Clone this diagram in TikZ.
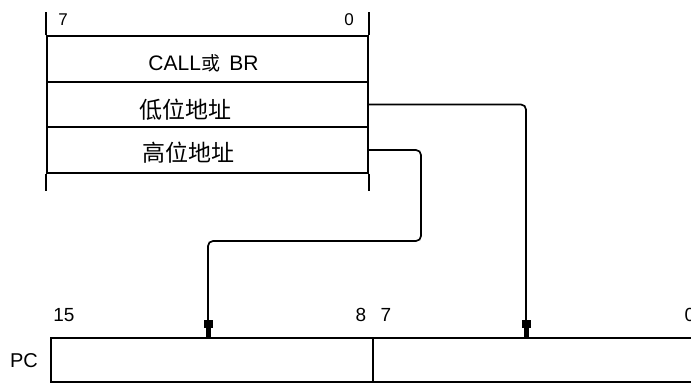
\documentclass[tikz,border=0pt]{standalone}
\usepackage{fontspec}
\setmainfont{Liberation Sans}
\newfontfamily\cjk{Noto Sans CJK SC}
\usetikzlibrary{arrows.meta}

\begin{document}
\begin{tikzpicture}[x=1pt, y=-1pt, line width=1.7pt,
  cell/.style={draw, rectangle, inner sep=0pt, minimum width=321pt, minimum height=45.5pt},
  reg/.style={draw, rectangle, inner sep=0pt, minimum height=44pt},
  bit/.style={inner sep=0pt, font=\fontsize{17}{17}\selectfont},
  bigbit/.style={inner sep=0pt, font=\fontsize{19}{19}\selectfont},
  word/.style={inner sep=0pt, font=\fontsize{23}{23}\selectfont\cjk},
  addr/.style={rounded corners=5pt, -{Square[length=8pt,width=9pt,sep=0pt]Rectangle[length=10pt,width=5pt,sep=0pt]}}]
\useasboundingbox (0,0) rectangle (691,383);

% instruction bytes
\node[cell] (r1) at (207.5,59) {};
\node[cell] (r2) at (207.5,104.5) {};
\node[cell] (r3) at (207.5,150) {};
\draw (r1.north west) -- ++(0,-23);
\draw (r1.north east) -- ++(0,-23);
\draw (r3.south west) -- ++(0,17);
\draw (r3.south east) -- ++(0,17);

\node[bit] (t7) at (63,20) {7};
\node[bit] (t0) at (349,20) {0};
\node[inner sep=0pt, font=\fontsize{21}{21}\selectfont] (op) at (203.5,63) {CALL{\cjk\fontsize{19}{19}\selectfont 或}\, BR};
\node[word] (lo) at (185.5,110) {低位地址};
\node[word] (hi) at (188,153) {高位地址};

% program counter
\node[reg, minimum width=322pt] (pchi) at (212,360) {};
\node[reg, minimum width=332pt] (pclo) at (539,360) {};
\node[inner sep=0pt, font=\fontsize{20}{20}\selectfont] (pc) at (24,361) {PC};
\node[bigbit] (b15) at (64,315) {15};
\node[bigbit] (b8) at (361,315) {8};
\node[bigbit] (b7) at (386,315) {7};
\node[bigbit] (b0) at (690,315) {0};

\coordinate (loin) at (526,338);
\coordinate (hibend) at (421,241);
\coordinate (hiin) at (208,338);

\draw[addr] (r2.east) -| (loin);
\draw[addr] (r3.east) -| (hibend) -| (hiin);
\end{tikzpicture}
\end{document}
